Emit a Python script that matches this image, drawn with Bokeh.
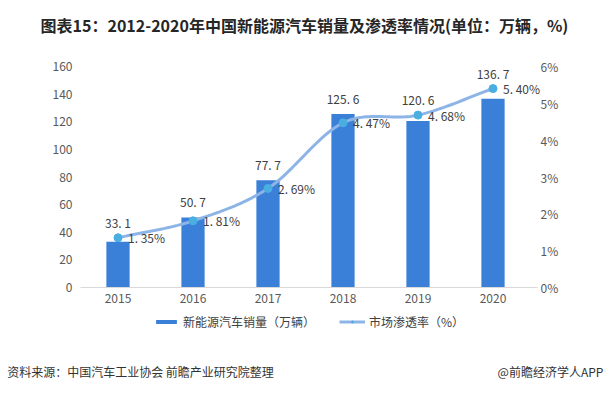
import numpy as np
from bokeh.plotting import figure
from bokeh.models import (ColumnDataSource, Range1d, LinearAxis, Legend, Label,
                          LegendItem, PrintfTickFormatter, FixedTicker, LabelSet)
from bokeh.core.properties import value
from bokeh.embed import file_html
from bokeh.resources import INLINE

# ---------------- data ----------------
years = ["2015", "2016", "2017", "2018", "2019", "2020"]
sales = [33.1, 50.7, 77.7, 125.6, 120.6, 136.7]
penetration = [1.35, 1.81, 2.69, 4.47, 4.68, 5.40]
sales_labels = ["33. 1", "50. 7", "77. 7", "125. 6", "120. 6", "136. 7"]
pen_labels = ["1. 35%", "1. 81%", "2. 69%", "4. 47%", "4. 68%", "5. 40%"]
left_ticks = [0, 20, 40, 60, 80, 100, 120, 140, 160]
right_ticks = [0, 1, 2, 3, 4, 5, 6]

title_text = "图表15：2012-2020年中国新能源汽车销量及渗透率情况(单位：万辆，%)"
bar_name = "新能源汽车销量（万辆）"
line_name = "市场渗透率（%）"
source_text = "资料来源：中国汽车工业协会 前瞻产业研究院整理"
brand_text = "@前瞻经济学人APP"

FONT = "Noto Sans CJK SC"
BAR_C = "#3a7fd8"
LINE_C = "#8db4e6"
DOT_C = "#4aaee0"
TXT_C = "#404040"
TICK_C = "#595959"

# ---------------- layout geometry (pixels) ----------------
W, H = 609, 395
F_LEFT, F_RIGHT, F_TOP, F_BOTTOM = 34, 584, 8, 340   # plot frame
AXIS_LEFT, AXIS_RIGHT = 80, 537                      # visible chart area
Y_TOP, Y_ZERO = 66, 287
STEP = 75                                            # pixels per category

n = len(years)
xs = list(range(n))
x_start = -0.5 - (AXIS_LEFT - F_LEFT) / STEP
x_end = -0.5 + (F_RIGHT - AXIS_LEFT) / STEP
x_axis_end = -0.5 + (AXIS_RIGHT - AXIS_LEFT) / STEP
lo_frac = (F_BOTTOM - Y_ZERO) / (Y_ZERO - Y_TOP)
hi_frac = (Y_ZERO - F_TOP) / (Y_ZERO - Y_TOP)
ymax, pmax = left_ticks[-1], right_ticks[-1]

p = figure(width=W, height=H, output_backend="svg", toolbar_location=None,
           x_range=Range1d(x_start, x_end),
           y_range=Range1d(-ymax * lo_frac, ymax * hi_frac),
           min_border_left=F_LEFT, min_border_right=W - F_RIGHT,
           min_border_top=F_TOP, min_border_bottom=H - F_BOTTOM)
p.outline_line_color = None
p.xgrid.grid_line_color = None
p.ygrid.grid_line_color = None
p.extra_y_ranges = {"pct": Range1d(-pmax * lo_frac, pmax * hi_frac)}
p.extra_x_ranges = {"foot": Range1d(F_LEFT, F_RIGHT)}

# value labels sit above whichever is higher: the bar top or the line marker
label_y = [max(s, q * ymax / pmax) for s, q in zip(sales, penetration)]
src = ColumnDataSource(dict(x=xs, sales=sales, pen=penetration, ly=label_y,
                            sl=sales_labels, pl=pen_labels))
bars = p.vbar(x="x", top="sales", width=0.31, source=src, fill_color=BAR_C,
              line_color=None)

# smooth curve through the data points (Catmull-Rom / Hermite)
def smooth(xv, yv, k_pts=30):
    xv = np.asarray(xv, float); yv = np.asarray(yv, float)
    k = len(xv)
    mx = np.zeros(k); my = np.zeros(k)
    for i in range(k):
        a = max(i - 1, 0); b = min(i + 1, k - 1)
        mx[i] = (xv[b] - xv[a]) / (b - a)
        my[i] = (yv[b] - yv[a]) / (b - a)
    t = np.linspace(0, 1, k_pts)
    h00 = 2 * t**3 - 3 * t**2 + 1
    h10 = t**3 - 2 * t**2 + t
    h01 = -2 * t**3 + 3 * t**2
    h11 = t**3 - t**2
    ox, oy = [], []
    for i in range(k - 1):
        ox.extend(h00 * xv[i] + h10 * mx[i] + h01 * xv[i + 1] + h11 * mx[i + 1])
        oy.extend(h00 * yv[i] + h10 * my[i] + h01 * yv[i + 1] + h11 * my[i + 1])
    return ox, oy

sx, sy = smooth(xs, penetration)
ln = p.line(sx, sy, y_range_name="pct", line_color=LINE_C, line_width=3)
dots = p.scatter(x="x", y="pen", source=src, y_range_name="pct", size=8,
                 fill_color=DOT_C, line_color=DOT_C)

p.add_layout(LabelSet(x="x", y="ly", text="sl", source=src, text_align="center",
                      text_baseline="bottom", y_offset=7, text_font=value(FONT),
                      text_font_size="12px", text_color=TXT_C))
p.add_layout(LabelSet(x="x", y="pen", text="pl", source=src, y_range_name="pct",
                      text_align="left", text_baseline="middle", x_offset=10,
                      text_font=value(FONT), text_font_size="12px", text_color=TXT_C))

# title (inside the tall frame, above the chart area)
p.add_layout(Label(x=304 - F_LEFT, y=F_BOTTOM - 24, x_units="screen", y_units="screen",
                   text=title_text, text_align="center", text_baseline="middle",
                   text_font=FONT, text_font_size="16px", text_font_style="bold",
                   text_color="#262626"))

# x axis drawn at y = 0
xa = p.xaxis[0]
xa.fixed_location = 0
xa.bounds = (-0.5, x_axis_end)
xa.ticker = FixedTicker(ticks=xs)
xa.major_label_overrides = {i: y for i, y in enumerate(years)}
xa.axis_line_color = "#d9d9d9"
xa.major_tick_line_color = None
xa.minor_tick_line_color = None
xa.major_tick_out = 0
xa.major_tick_in = 0
xa.major_label_text_font = FONT
xa.major_label_text_font_size = "12px"
xa.major_label_text_color = TICK_C
xa.major_label_standoff = 6

# left y axis drawn at the left edge of the chart area
ya = p.yaxis[0]
ya.fixed_location = -0.5
ya.bounds = (0, ymax)
ya.ticker = FixedTicker(ticks=left_ticks)
ya.axis_line_color = None
ya.major_tick_line_color = None
ya.minor_tick_line_color = None
ya.major_tick_out = 0
ya.major_label_text_font = FONT
ya.major_label_text_font_size = "12px"
ya.major_label_text_color = TICK_C
ya.major_label_standoff = 8

ra = LinearAxis(y_range_name="pct", ticker=FixedTicker(ticks=right_ticks),
                formatter=PrintfTickFormatter(format="%d%%"),
                fixed_location=x_axis_end, bounds=(0, pmax))
ra.axis_line_color = None
ra.major_tick_line_color = None
ra.minor_tick_line_color = None
ra.major_tick_out = 0
ra.major_label_text_font = FONT
ra.major_label_text_font_size = "12px"
ra.major_label_text_color = TICK_C
ra.major_label_standoff = 3
p.add_layout(ra, "right")

# footer row: an axis whose two tick labels are the source and the brand
foot_pos = [140, 550]
fa = LinearAxis(x_range_name="foot", ticker=FixedTicker(ticks=foot_pos),
                major_label_overrides={foot_pos[0]: source_text,
                                       foot_pos[1]: brand_text})
fa.axis_line_color = None
fa.major_tick_line_color = None
fa.minor_tick_line_color = None
fa.major_tick_out = 0
fa.major_tick_in = 0
fa.major_label_text_font = FONT
fa.major_label_text_font_size = "12px"
fa.major_label_text_color = "#333333"
fa.major_label_standoff = 22
p.add_layout(fa, "below")

# series legend (inside the frame, under the x axis)
leg = Legend(items=[LegendItem(label=bar_name, renderers=[bars]),
                    LegendItem(label=line_name, renderers=[ln, dots])],
             orientation="horizontal", location=(153 - F_LEFT, 10),
             label_text_font=FONT, label_text_font_size="12px",
             label_text_color=TXT_C, glyph_width=26, glyph_height=5,
             spacing=24, padding=0, margin=0, border_line_color=None,
             background_fill_alpha=0, label_standoff=4, label_height=14)
p.add_layout(leg, "center")

open("out.html", "w").write(file_html(p, INLINE))
